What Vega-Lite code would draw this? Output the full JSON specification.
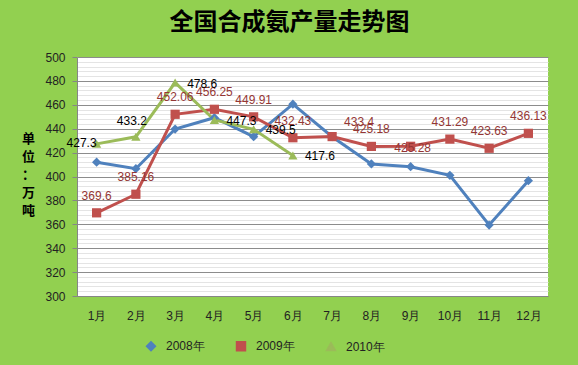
{
  "$schema": "https://vega.github.io/schema/vega-lite/v6.json",
  "width": 471,
  "height": 239,
  "autosize": {"type": "none"},
  "padding": {"left": 77, "top": 57, "right": 30, "bottom": 69},
  "background": "#92D050",
  "title": {"text": "全国合成氨产量走势图", "fontSize": 24, "font": "Noto Sans CJK SC", "fontWeight": "bold", "color": "#000000", "anchor": "middle", "dx": -23, "offset": 16},
  "config": {"view": {"fill": "white", "stroke": null}, "font": "Liberation Sans"},
  "data": {"values": [
    {"month": "1月", "series": "2008年", "value": 412},
    {"month": "2月", "series": "2008年", "value": 406.5},
    {"month": "3月", "series": "2008年", "value": 439.7},
    {"month": "4月", "series": "2008年", "value": 449.2},
    {"month": "5月", "series": "2008年", "value": 433.3},
    {"month": "6月", "series": "2008年", "value": 460.5},
    {"month": "7月", "series": "2008年", "value": 433.3},
    {"month": "8月", "series": "2008年", "value": 410.5},
    {"month": "9月", "series": "2008年", "value": 408.2},
    {"month": "10月", "series": "2008年", "value": 401},
    {"month": "11月", "series": "2008年", "value": 359.4},
    {"month": "12月", "series": "2008年", "value": 396.5},
    {"month": "1月", "series": "2009年", "value": 369.6},
    {"month": "2月", "series": "2009年", "value": 385.16},
    {"month": "3月", "series": "2009年", "value": 452.06},
    {"month": "4月", "series": "2009年", "value": 456.25},
    {"month": "5月", "series": "2009年", "value": 449.91},
    {"month": "6月", "series": "2009年", "value": 432.43},
    {"month": "7月", "series": "2009年", "value": 433.4},
    {"month": "8月", "series": "2009年", "value": 425.18},
    {"month": "9月", "series": "2009年", "value": 425.28},
    {"month": "10月", "series": "2009年", "value": 431.29},
    {"month": "11月", "series": "2009年", "value": 423.63},
    {"month": "12月", "series": "2009年", "value": 436.13},
    {"month": "1月", "series": "2010年", "value": 427.3},
    {"month": "2月", "series": "2010年", "value": 433.2},
    {"month": "3月", "series": "2010年", "value": 478.6},
    {"month": "4月", "series": "2010年", "value": 447.3},
    {"month": "5月", "series": "2010年", "value": 439.5},
    {"month": "6月", "series": "2010年", "value": 417.6}
  ]},
  "encoding": {
    "x": {"field": "month", "type": "ordinal", "sort": ["1月","2月","3月","4月","5月","6月","7月","8月","9月","10月","11月","12月"],
      "axis": {"title": null, "labelAngle": 0, "grid": false, "ticks": false, "domain": true, "domainColor": "#868686", "labelPadding": 14, "labelFontSize": 12, "labelColor": "#222222"}}
  },
  "layer": [
    {
      "mark": {"type": "point", "opacity": 0},
      "encoding": {
        "y": {"field": "value", "type": "quantitative", "scale": {"domain": [300, 500], "nice": false, "zero": false},
          "axis": {"orient": "right", "title": null, "labels": false, "ticks": false, "domain": false, "grid": true, "gridColor": "#E4E4E4", "gridWidth": 1,
            "values": [304,308,312,316,324,328,332,336,344,348,352,356,364,368,372,376,384,388,392,396,404,408,412,416,424,428,432,436,444,448,452,456,464,468,472,476,484,488,492,496]}}
      }
    },
    {
      "mark": {"type": "line", "strokeWidth": 3},
      "encoding": {
        "y": {"field": "value", "type": "quantitative", "scale": {"domain": [300, 500], "nice": false, "zero": false},
          "axis": {"title": ["单", "位", "：", "万", "吨"], "titleAngle": 0, "titleFontSize": 13, "titleFontWeight": "bold", "titleFont": "Noto Sans CJK SC", "titleLineHeight": 18, "titleX": -49, "titleY": 75, "titleAlign": "center", "titleBaseline": "top", "titleColor": "#000000",
            "values": [300,320,340,360,380,400,420,440,460,480,500], "grid": true, "gridColor": "#8C8C8C", "domainColor": "#868686", "tickColor": "#868686", "tickSize": 5, "labelPadding": 7, "labelFontSize": 12, "labelColor": "#222222"}},
        "color": {"field": "series", "type": "nominal", "scale": {"domain": ["2008年", "2009年", "2010年"], "range": ["#4F81BD", "#C0504D", "#9BBB59"]},
          "legend": {"title": null, "orient": "none", "legendX": 68, "legendY": 283, "direction": "horizontal", "labelFontSize": 12, "labelColor": "#222222", "symbolSize": 80, "columnPadding": 28, "labelOffset": 9}}
      }
    },
    {
      "mark": {"type": "point", "filled": true, "opacity": 1, "size": 85},
      "encoding": {
        "y": {"field": "value", "type": "quantitative", "axis": null},
        "color": {"field": "series", "type": "nominal",
          "legend": {"title": null, "orient": "none", "legendX": 68, "legendY": 283, "direction": "horizontal", "labelFontSize": 12, "labelColor": "#222222", "symbolSize": 80, "columnPadding": 28, "labelOffset": 9}},
        "shape": {"field": "series", "type": "nominal", "scale": {"domain": ["2008年", "2009年", "2010年"], "range": ["diamond", "square", "triangle-up"]},
          "legend": {"title": null, "orient": "none", "legendX": 68, "legendY": 283, "direction": "horizontal", "labelFontSize": 12, "labelColor": "#222222", "symbolSize": 80, "columnPadding": 28, "labelOffset": 9}}
      }
    },
    {
      "transform": [{"filter": "datum.series == '2009年' && datum.month != '7月' && datum.month != '9月'"}],
      "mark": {"type": "text", "fontSize": 12, "color": "#943634", "baseline": "middle", "dy": -17},
      "encoding": {"y": {"field": "value", "type": "quantitative", "axis": null}, "text": {"field": "value", "type": "quantitative"}}
    },
    {
      "transform": [{"filter": "datum.series == '2009年' && datum.month == '7月'"}],
      "mark": {"type": "text", "fontSize": 12, "color": "#943634", "baseline": "middle", "dy": -15, "dx": 27},
      "encoding": {"y": {"field": "value", "type": "quantitative", "axis": null}, "text": {"field": "value", "type": "quantitative"}}
    },
    {
      "transform": [{"filter": "datum.series == '2009年' && datum.month == '9月'"}],
      "mark": {"type": "text", "fontSize": 12, "color": "#943634", "baseline": "middle", "dy": 2, "dx": 2},
      "encoding": {"y": {"field": "value", "type": "quantitative", "axis": null}, "text": {"field": "value", "type": "quantitative"}}
    },
    {
      "transform": [{"filter": "datum.series == '2010年' && datum.month == '1月'"}],
      "mark": {"type": "text", "fontSize": 12, "color": "#000000", "baseline": "middle", "align": "right", "dx": 0, "dy": -1},
      "encoding": {"y": {"field": "value", "type": "quantitative", "axis": null}, "text": {"field": "value", "type": "quantitative"}}
    },
    {
      "transform": [{"filter": "datum.series == '2010年' && datum.month == '2月'"}],
      "mark": {"type": "text", "fontSize": 12, "color": "#000000", "baseline": "middle", "align": "center", "dx": -4, "dy": -16},
      "encoding": {"y": {"field": "value", "type": "quantitative", "axis": null}, "text": {"field": "value", "type": "quantitative"}}
    },
    {
      "transform": [{"filter": "datum.series == '2010年' && datum.month != '1月' && datum.month != '2月'"}],
      "mark": {"type": "text", "fontSize": 12, "color": "#000000", "baseline": "middle", "align": "left", "dx": 12, "dy": 1},
      "encoding": {"y": {"field": "value", "type": "quantitative", "axis": null}, "text": {"field": "value", "type": "quantitative"}}
    }
  ],
  "resolve": {"axis": {"y": "independent"}}
}
